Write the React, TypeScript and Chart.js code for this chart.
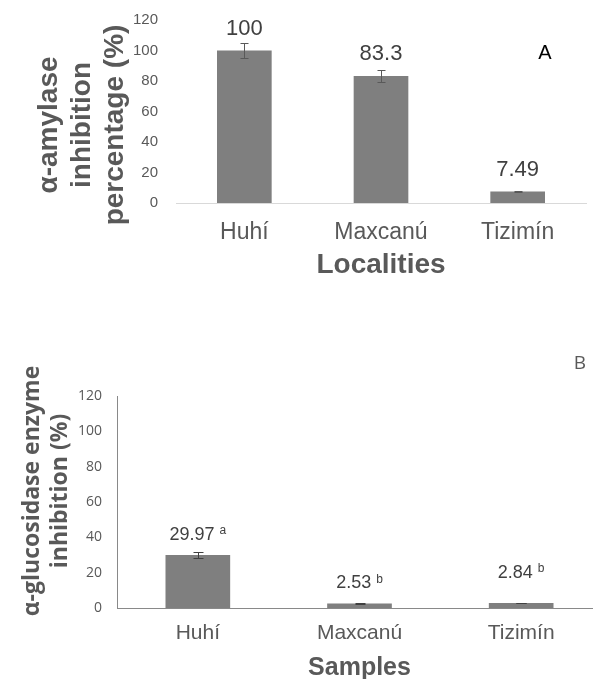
import { useEffect, useRef } from "react";
import { Chart, registerables } from "chart.js";

Chart.register(...registerables);

// ---- Panel A data ----
const localities = ["Huhí", "Maxcanú", "Tizimín"];
const amylaseValues = [100, 83.3, 7.49];
const amylaseErrors = [4.8, 4.1, 0.3];
const amylaseLabels = ["100", "83.3", "7.49"];

// ---- Panel B data ----
const samples = ["Huhí", "Maxcanú", "Tizimín"];
const glucosidaseValues = [29.97, 2.53, 2.84];
const glucosidaseErrors = [1.8, 0.3, 0.25];
const glucosidaseLabels = ["29.97", "2.53", "2.84"];
const glucosidaseLetters = ["a", "b", "b"];

// ---- Axis settings ----
const yMin = 0;
const yMax = 120;
const yStep = 20;

const SANS = "'Liberation Sans', Arial, sans-serif";
const OPEN = "'Open Sans', 'Noto Sans', sans-serif";

const barAnnotations = {
  id: "barAnnotations",
  afterDatasetsDraw(chart: any, _args: any, opts: any) {
    const { ctx } = chart;
    const yScale = chart.scales.y;
    const meta = chart.getDatasetMeta(0);
    ctx.save();
    meta.data.forEach((el: any, i: number) => {
      const v = opts.values[i];
      const e = opts.errors[i];
      const x = Math.round(el.x) + 0.5;
      const top = Math.round(yScale.getPixelForValue(v + e)) + 0.5;
      const bot = Math.round(yScale.getPixelForValue(v - e)) + 0.5;
      const cap = opts.cap;
      ctx.strokeStyle = opts.errColor;
      ctx.lineWidth = 1;
      ctx.beginPath();
      ctx.moveTo(x, top);
      ctx.lineTo(x, bot);
      ctx.moveTo(x - cap, top);
      ctx.lineTo(x + cap, top);
      ctx.moveTo(x - cap, bot);
      ctx.lineTo(x + cap, bot);
      ctx.stroke();

      const ly = el.y - opts.gap - (opts.extraGap ? opts.extraGap[i] : 0);
      ctx.fillStyle = opts.color;
      ctx.textBaseline = "middle";
      ctx.textAlign = "left";
      ctx.font = opts.font;
      const main = opts.labels[i];
      const mw = ctx.measureText(main).width;
      let total = mw;
      let lw = 0;
      let sp = 0;
      const letter = opts.letters ? opts.letters[i] : "";
      if (letter) {
        ctx.font = opts.letterFont;
        lw = ctx.measureText(letter).width;
        sp = opts.letterSpace;
        total += sp + lw;
      }
      const sx = el.x - total / 2;
      ctx.font = opts.font;
      ctx.fillText(main, sx, ly);
      if (letter) {
        ctx.font = opts.letterFont;
        ctx.fillText(letter, sx + mw + sp, ly - opts.letterRise);
      }
    });
    ctx.restore();
  },
};

const overlayText = {
  id: "overlayText",
  afterDraw(chart: any, _args: any, opts: any) {
    const { ctx } = chart;
    ctx.save();
    (opts.items || []).forEach((it: any) => {
      ctx.font = it.font;
      ctx.fillStyle = it.color;
      ctx.textAlign = "center";
      ctx.textBaseline = "middle";
      if (it.rotate) {
        ctx.save();
        ctx.translate(it.x, it.y);
        ctx.rotate(-Math.PI / 2);
        it.lines.forEach((line: string, k: number) => {
          ctx.fillText(line, 0, k * it.lineGap);
        });
        ctx.restore();
      } else {
        ctx.fillText(it.text, it.x, it.y);
      }
    });
    ctx.restore();
  },
};

function fixY(width: number) {
  return (s: any) => {
    s.width = width;
    s.paddingTop = 0;
    s.paddingBottom = 0;
  };
}

function makeConfigA(): any {
  return {
    type: "bar",
    data: {
      labels: localities,
      datasets: [
        {
          data: amylaseValues,
          backgroundColor: "#7f7f7f",
          borderWidth: 0,
          barPercentage: 0.4,
          categoryPercentage: 1,
        },
      ],
    },
    plugins: [barAnnotations, overlayText],
    options: {
      responsive: false,
      animation: false,
      devicePixelRatio: 1,
      layout: { padding: { left: 0, top: 20, right: 7, bottom: 0 } },
      plugins: {
        legend: { display: false },
        tooltip: { enabled: false },
        barAnnotations: {
          values: amylaseValues,
          errors: amylaseErrors,
          labels: amylaseLabels,
          cap: 4,
          errColor: "#595959",
          gap: 22,
          color: "#404040",
          font: `22px ${SANS}`,
        },
        overlayText: {
          items: [
            {
              rotate: true,
              lines: ["α-amylase", "inhibition", "percentage (%)"],
              x: 49,
              y: 125,
              lineGap: 33,
              font: `bold 28px ${SANS}`,
              color: "#595959",
            },
            { text: "A", x: 545, y: 53, font: `20px ${SANS}`, color: "#000000" },
          ],
        },
      },
      scales: {
        x: {
          type: "category",
          offset: true,
          grid: { display: false, drawTicks: false },
          border: { display: true, color: "#d9d9d9", width: 1 },
          ticks: { color: "#595959", font: { family: SANS, size: 23 }, padding: 16 },
          title: {
            display: true,
            text: "Localities",
            color: "#595959",
            font: { family: SANS, size: 28, weight: "bold" },
            padding: { top: 0, bottom: 8 },
          },
          afterFit: (s: any) => {
            s.height = 87;
          },
        },
        y: {
          min: yMin,
          max: yMax,
          grid: { display: false, drawTicks: false },
          border: { display: false },
          ticks: { stepSize: yStep, color: "#595959", font: { family: SANS, size: 15 }, padding: 18 },
          afterFit: fixY(176),
        },
      },
    },
  };
}

function makeConfigB(): any {
  return {
    type: "bar",
    data: {
      labels: samples,
      datasets: [
        {
          data: glucosidaseValues,
          backgroundColor: "#7f7f7f",
          borderWidth: 0,
          barPercentage: 0.4,
          categoryPercentage: 1,
        },
      ],
    },
    plugins: [barAnnotations, overlayText],
    options: {
      responsive: false,
      animation: false,
      devicePixelRatio: 1,
      layout: { padding: { left: 0, top: 66, right: 8, bottom: 0 } },
      plugins: {
        legend: { display: false },
        tooltip: { enabled: false },
        barAnnotations: {
          values: glucosidaseValues,
          errors: glucosidaseErrors,
          labels: glucosidaseLabels,
          letters: glucosidaseLetters,
          extraGap: [0, 0, 10],
          cap: 5,
          errColor: "#404040",
          gap: 20,
          color: "#404040",
          font: `18px ${SANS}`,
          letterFont: `12px ${SANS}`,
          letterSpace: 5,
          letterRise: 4,
        },
        overlayText: {
          items: [
            {
              rotate: true,
              lines: ["α-glucosidase enzyme", "inhibition (%)"],
              x: 32,
              y: 161,
              lineGap: 28,
              font: `bold 23px ${OPEN}`,
              color: "#595959",
            },
            { text: "B", x: 580, y: 34, font: `19px ${OPEN}`, color: "#595959" },
          ],
        },
      },
      scales: {
        x: {
          type: "category",
          offset: true,
          grid: { display: false, drawTicks: false },
          border: { display: true, color: "#898989", width: 1 },
          ticks: { color: "#595959", font: { family: SANS, size: 21 }, padding: 13 },
          title: {
            display: true,
            text: "Samples",
            color: "#595959",
            font: { family: SANS, size: 25, weight: "bold" },
            padding: { top: 0, bottom: 7 },
          },
          afterFit: (s: any) => {
            s.height = 82;
          },
        },
        y: {
          min: yMin,
          max: yMax,
          grid: { display: false, drawTicks: false },
          border: { display: true, color: "#898989", width: 1 },
          ticks: { stepSize: yStep, color: "#595959", font: { family: OPEN, size: 14 }, padding: 15 },
          afterFit: fixY(117),
        },
      },
    },
  };
}

export default function App() {
  const refA = useRef<HTMLCanvasElement>(null);
  const refB = useRef<HTMLCanvasElement>(null);

  useEffect(() => {
    const a = new Chart(refA.current!, makeConfigA());
    const b = new Chart(refB.current!, makeConfigB());
    return () => {
      a.destroy();
      b.destroy();
    };
  }, []);

  return (
    <div
      style={{
        position: "fixed",
        left: 0,
        top: 0,
        width: 593,
        height: 679,
        overflow: "hidden",
        background: "#ffffff",
      }}
    >
      <canvas
        ref={refA}
        width={593}
        height={290}
        style={{ position: "absolute", left: 0, top: 0, width: 593, height: 290 }}
      />
      <canvas
        ref={refB}
        width={610}
        height={360}
        style={{ position: "absolute", left: 0, top: 330, width: 610, height: 360 }}
      />
    </div>
  );
}
